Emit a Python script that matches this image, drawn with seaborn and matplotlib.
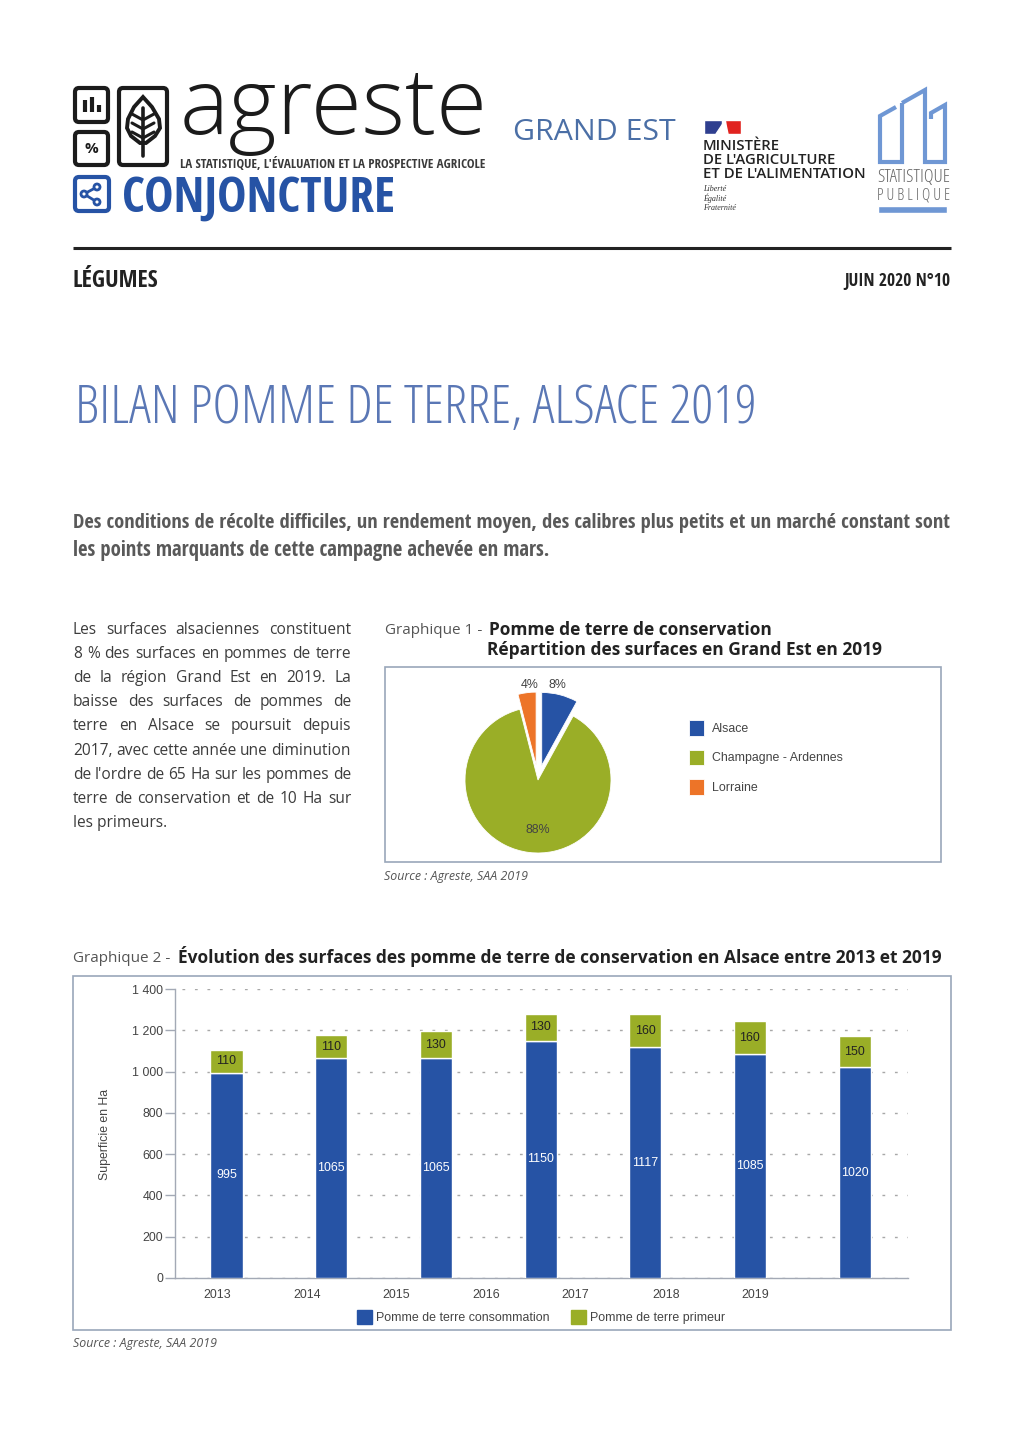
import matplotlib
matplotlib.use('Agg')
import matplotlib.pyplot as plt
from matplotlib.patches import Rectangle, FancyBboxPatch, Polygon, Circle, Patch
from matplotlib.ticker import FuncFormatter
import pandas as pd
import seaborn as sns

# data
regions = ['Alsace', 'Champagne - Ardennes', 'Lorraine']
region_shares = [8, 88, 4]
years = ['2013', '2014', '2015', '2016', '2017', '2018', '2019']
consommation = [995, 1065, 1065, 1150, 1117, 1085, 1020]
primeur = [110, 110, 130, 130, 160, 160, 150]
y_ticks = [0, 200, 400, 600, 800, 1000, 1200, 1400]
body_lines = [
    "Les surfaces alsaciennes constituent",
    "8 % des surfaces en pommes de terre",
    "de la région Grand Est en 2019. La",
    "baisse des surfaces de pommes de",
    "terre en Alsace se poursuit depuis",
    "2017, avec cette année une diminution",
    "de l'ordre de 65 Ha sur les pommes de",
    "terre de conservation et de 10 Ha sur",
]

BLUE = '#2653a5'
GREEN = '#9aae27'
ORANGE = '#ed7428'
FRAME = '#9aa7ba'
AXIS = '#a3a9b5'
W, H = 1024, 1450
CHART_FONT = 'Liberation Sans'
CHART_SIZE = 8.9
COND = ['Open Sans Condensed', 'Open Sans']

sns.set_style('white')
plt.rcParams['font.family'] = ['Open Sans', 'DejaVu Sans']

fig = plt.figure(figsize=(W / 100, H / 100), dpi=100, facecolor='white')
page = fig.add_axes([0, 0, 1, 1])
page.set_xlim(0, W)
page.set_ylim(H, 0)
page.axis('off')
renderer = fig.canvas.get_renderer()


def put(s, x, y, size=10, width=None, **kw):
    kw.setdefault('va', 'center')
    kw.setdefault('color', '#333333')
    t = page.text(x, y, s, fontsize=size, **kw)
    if width:
        # scale the font so the string covers the same pixels as the reference
        t.set_fontsize(size * width / t.get_window_extent(renderer).width)
    return t


def justified(line, y, x0, x1, size, **kw):
    words = line.split(' ')
    items = [put(w, x0, y, size, **kw) for w in words]
    widths = [i.get_window_extent(renderer).width for i in items]
    gap = (x1 - x0 - sum(widths)) / (len(words) - 1)
    x = x0
    for item, w in zip(items, widths):
        item.set_x(x)
        x += w + gap


def ax_px(x0, y0, x1, y1):
    return fig.add_axes([x0 / W, 1 - y1 / H, (x1 - x0) / W, (y1 - y0) / H], facecolor='none')


def box(x0, y0, x1, y1, color='#1b1b1b', lw=3, r=4):
    page.add_patch(FancyBboxPatch((x0, y0), x1 - x0, y1 - y0, boxstyle=f'round,pad=0,rounding_size={r}',
                                  fc='none', ec=color, lw=lw))


# agreste logo
box(75, 88, 108, 122)
box(75, 132, 108, 165)
box(119, 88, 167, 165)
for bx, top in [(85, 100), (92, 97), (99, 105)]:
    page.plot([bx, bx], [top, 112], color='#1b1b1b', lw=3, solid_capstyle='butt')
put('%', 91.5, 149, 11, ha='center', weight='bold', color='#1b1b1b')
page.add_patch(Polygon([(143, 97), (152, 107), (159, 119), (160, 128), (155, 136), (146, 143), (140, 143),
                        (131, 136), (127, 128), (128, 119), (134, 107)], fc='none', ec='#1b1b1b', lw=2.8))
page.plot([143, 143], [108, 156], color='#1b1b1b', lw=2.6)
for vy in [120, 129, 138]:
    page.plot([132, 143, 154], [vy - 6, vy, vy - 6], color='#1b1b1b', lw=2.2)
put('agreste', 180, 134, 65, width=308, va='baseline', color='#1b1b1b', weight='light')
put("LA STATISTIQUE, L'ÉVALUATION ET LA PROSPECTIVE AGRICOLE", 180, 164, 8, width=308, family=COND,
    weight='bold', color='#3a3a3a')
box(75, 177, 109, 211, color=BLUE, lw=3)
page.plot([84, 97], [194, 187], color=BLUE, lw=2)
page.plot([84, 97], [194, 202], color=BLUE, lw=2)
for cx, cy in [(84, 194), (97, 187), (97, 202)]:
    page.add_patch(Circle((cx, cy), 3, fc='white', ec=BLUE, lw=2, zorder=3))
put('CONJONCTURE', 122, 212, 36, width=273, va='baseline', family=COND, weight='bold', color=BLUE)
put('GRAND EST', 513, 140, 23, width=163, va='baseline', color='#4b6fa6')

# ministry block
page.add_patch(Rectangle((704, 120), 18, 14, fc='#2f3f8f'))
page.add_patch(Rectangle((725, 120), 16, 14, fc='#e1231f'))
page.add_patch(Polygon([(716, 134), (722, 125), (725, 120), (728, 134)], fc='white'))
for i, line in enumerate(["MINISTÈRE", "DE L'AGRICULTURE", "ET DE L'ALIMENTATION"]):
    put(line, 703, 146 + 14 * i, 9.5, width=[78, 133, 165][i], color='#222222', weight='semibold')
for i, line in enumerate(["Liberté", "Égalité", "Fraternité"]):
    put(line, 703, 189 + 9.5 * i, 5.8, family='Liberation Serif', style='italic', color='#333333')

# statistique publique logo
LOGO = '#6f97d4'
for xs, ys in [([902, 925, 925, 945, 945, 931, 931], [103, 90, 162, 162, 105, 113, 119]),
               ([896, 880, 880, 902, 902], [107, 116, 162, 162, 103])]:
    page.plot(xs, ys, color=LOGO, lw=3, solid_joinstyle='miter', solid_capstyle='butt')
put('STATISTIQUE', 877, 177, 10, width=73, stretch='condensed', weight='light', color='#666666')
put('P U B L I Q U E', 877, 195, 8, width=73, stretch='condensed', weight='light', color='#666666')
page.add_patch(Rectangle((878, 206), 69, 7, fc=LOGO))

page.plot([73, 951], [248, 248], color='#222222', lw=2.2, solid_capstyle='butt')
put('LÉGUMES', 73, 281, 16, width=86, family=COND, weight='bold', color='#222222')
put('JUIN 2020 N°10', 844, 281, 12, width=106, family=COND, weight='bold', color='#222222')

put('BILAN POMME DE TERRE, ALSACE 2019', 75, 409, 36, width=681, stretch='condensed', weight='light',
    color='#5a77b5')
put('Des conditions de récolte difficiles, un rendement moyen, des calibres plus petits et un marché constant sont',
    73, 522.5, 15, width=878, family=COND, weight='bold', color='#595959')
put('les points marquants de cette campagne achevée en mars.', 73, 550, 15, width=478, family=COND,
    weight='bold', color='#595959')

for i, line in enumerate(body_lines):
    justified(line, 630 + 24.1 * i, 73, 351, 11.2, color='#3c3c3c')
put('les primeurs.', 73, 823, 11.2, color='#3c3c3c')

# titles and sources
put('Graphique 1 - ', 385, 630, 11, color='#555555')
put('Pomme de terre de conservation', 489, 629.5, 10.5, width=284, weight='bold', color='#222222')
put('Répartition des surfaces en Grand Est en 2019', 487, 649.5, 10.5, width=397, weight='bold', color='#222222')
put('Source : Agreste, SAA 2019', 384, 876.5, 8.9, style='italic', color='#555555')
put('Graphique 2 - ', 73, 958, 11, color='#555555')
put('Évolution des surfaces des pomme de terre de conservation en Alsace entre 2013 et 2019', 178, 956, 10.5,
    width=766, weight='bold', color='#222222')
put('Source : Agreste, SAA 2019', 73, 1343, 8.9, style='italic', color='#555555')

page.add_patch(Rectangle((385, 667), 556, 195, fc='none', ec=FRAME, lw=1.2))
page.add_patch(Rectangle((73, 976), 878, 354, fc='none', ec=FRAME, lw=1.2))

# graphique 1
R = 73
ax1 = ax_px(538 - 1.25 * R, 780 - 1.25 * R, 538 + 1.25 * R, 780 + 1.25 * R)
pie_colors = sns.color_palette([BLUE, GREEN, ORANGE])
wedges, _, pct = ax1.pie(region_shares, colors=pie_colors, startangle=90, counterclock=False,
                         explode=[15 / R, 0, 15 / R], autopct='%d%%',
                         wedgeprops={'edgecolor': 'white', 'linewidth': 0.6},
                         textprops={'family': CHART_FONT, 'fontsize': CHART_SIZE, 'color': '#444444'})
pct[0].set_position((0.26, 1.30))
pct[1].set_position((0, -0.69))
pct[2].set_position((-0.12, 1.30))
ax1.legend(wedges, regions, loc='upper left', bbox_to_anchor=(689 / W, 1 - 720 / H),
           bbox_transform=fig.transFigure, frameon=False, borderpad=0, borderaxespad=0, handlelength=1.21,
           handleheight=1.56, handletextpad=0.62, labelspacing=1.13, prop={'family': CHART_FONT, 'size': CHART_SIZE},
           labelcolor='#444444')

# graphique 2
df = pd.DataFrame({'annee': years, 'consommation': consommation, 'primeur': primeur})
ax2 = ax_px(175, 989, 908, 1278)
sns.barplot(data=df, x='annee', y='consommation', color=BLUE, saturation=1, width=0.306, ax=ax2, zorder=3)
sns.barplot(data=df, x='annee', y='primeur', bottom=df['consommation'], color=GREEN, saturation=1, width=0.306,
            ax=ax2, zorder=3)
ax2.set_xlim(-0.492, 6.51)
ax2.set_ylim(0, 1400)
ax2.bar_label(ax2.containers[0], label_type='center', fmt='%d', color='white', fontsize=CHART_SIZE, family=CHART_FONT)
ax2.bar_label(ax2.containers[1], label_type='center', fmt='%d', color='#222222', fontsize=CHART_SIZE,
              family=CHART_FONT)

# the year labels sit off the bars in the reference
tick_px = [217, 307, 396, 486, 575, 666, 755]
ax2.set_xticks([(p - 226.5) / 104.7 for p in tick_px], years)
ax2.tick_params(axis='x', length=0, pad=8, labelsize=CHART_SIZE, labelcolor='#444444')
ax2.set_yticks(y_ticks)
ax2.yaxis.set_major_formatter(FuncFormatter(lambda v, _: f'{int(v):,}'.replace(',', ' ')))
ax2.tick_params(axis='y', left=True, length=7, width=1, color=AXIS, pad=1.5, labelsize=CHART_SIZE,
                labelcolor='#444444')
for lab in ax2.get_xticklabels() + ax2.get_yticklabels():
    lab.set_family(CHART_FONT)
ax2.yaxis.grid(True, color='#a8a8a8', lw=1, linestyle=(4, (2, 7)), zorder=0)
ax2.set_axisbelow(True)
ax2.set_xlabel('')
ax2.set_ylabel('')
sns.despine(ax=ax2)
for side in ['left', 'bottom']:
    ax2.spines[side].set_color(AXIS)
    ax2.spines[side].set_linewidth(1)
put('Superficie en Ha', 105, 1134, 8.8, rotation=90, ha='center', family=CHART_FONT, color='#444444')
ax2.legend([Patch(color=BLUE), Patch(color=GREEN)], ['Pomme de terre consommation', 'Pomme de terre primeur'],
           loc='center left', bbox_to_anchor=(357 / W, 1 - 1317 / H), bbox_transform=fig.transFigure, ncol=2,
           frameon=False, borderpad=0, borderaxespad=0, handlelength=1.21, handleheight=1.4, handletextpad=0.32,
           columnspacing=1.78, prop={'family': CHART_FONT, 'size': CHART_SIZE}, labelcolor='#444444')

fig.savefig('out.png', dpi=100, facecolor='white')
